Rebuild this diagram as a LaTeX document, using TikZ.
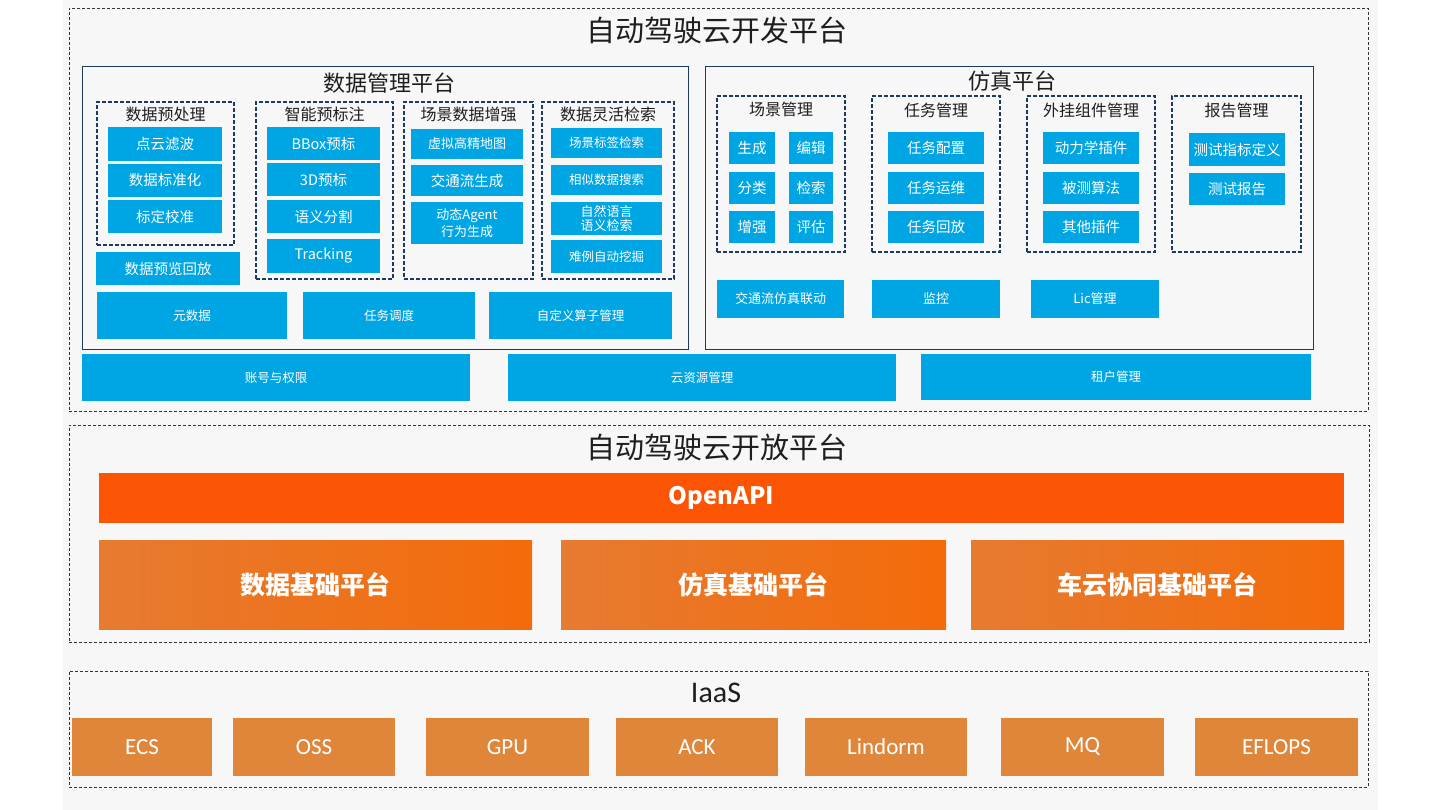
\documentclass[tikz,border=0pt]{standalone}
\usepackage{fontspec}
\setmainfont{Noto Sans CJK SC}
\newfontfamily\narrowfont{Carlito}
\usepackage{xcolor}
\usepackage{tikz}
\usetikzlibrary{fit, positioning}
\definecolor{pagegray}{HTML}{F7F7F7}
\definecolor{navy}{HTML}{1F3A5F}
\definecolor{cellblue}{HTML}{00A6E3}
\definecolor{apired}{HTML}{FA5404}
\definecolor{baseleft}{HTML}{E67B31}
\definecolor{baseright}{HTML}{F46B0A}
\definecolor{iaasorange}{HTML}{E0863B}
\definecolor{headtext}{HTML}{1E1E1E}
\newcommand*{\fsize}[1]{\fontsize{#1}{#1}\selectfont}
% box from its corners: [style]{x1}{y1}{x2}{y2}{name}{text}
\newcommand*{\cell}[7][bluecell]{%
  \node [ #1, minimum width = {(#4-#2)*1pt},
          minimum height = {(#5-#3)*1pt} ]
    (#6) at ({(#2+#4)/2}, {(#3+#5)/2}) {#7};
}

\begin{document}
\begin{tikzpicture}[x=1pt, y=-1pt,
  every node/.style = {inner sep=0pt, outer sep=0pt},
  layer/.style      = {draw=black!80, dash pattern=on 3pt off 2pt,
                       line width=0.8pt},
  platform/.style   = {draw=navy, line width=1pt},
  group/.style      = {draw=navy, dash pattern=on 4pt off 2pt,
                       line width=1.6pt},
  heading/.style    = {text=headtext, font=\fsize{29}},
  subheading/.style = {text=headtext, font=\fsize{22}},
  grouptitle/.style = {text=headtext, font=\fsize{16}},
  bluecell/.style   = {fill=cellblue, text=white, align=center,
                       font=\fsize{14.5}},
  smallcell/.style  = {bluecell, font=\fsize{13}},
  tinycell/.style   = {bluecell, font=\fsize{12.5}},
  apibar/.style     = {fill=apired, text=white, font=\bfseries\fsize{24}},
  basecell/.style   = {left color=baseleft, right color=baseright,
                       text=white, font=\bfseries\fsize{25}},
  iaascell/.style   = {fill=iaasorange, text=white,
                       font=\narrowfont\fsize{23}},
  ]
  % page
  \fill[white] (0,0) rectangle (1440,810);
  \fill[pagegray] (63,0) rectangle (1378,810);
  \useasboundingbox (0,0) rectangle (1440,810);

  % development platform
  \node[layer, fit = {(69,8) (1368,411)}] (devlayer) {};
  \node[heading] (devtitle) at (717,30) {自动驾驶云开发平台};

  \node[platform, fit = {(82,67) (688,349)}] (dataplat) {};
  \node[subheading] (datatitle) at (389,83) {数据管理平台};

  \node[group, fit = {(97,102) (234,245)}] (prep) {};
  \node[grouptitle, below = 5pt of prep.north] (preptitle) {数据预处理};
  \cell{108}{127}{222}{161}{filter}{点云滤波}
  \cell{108}{164}{222}{197}{normalize}{数据标准化}
  \cell{108}{200}{222}{233}{calib}{标定校准}
  \cell{96}{252}{240}{285}{preview}{数据预览回放}

  \node[group, fit = {(256,102) (393,279)}] (label) {};
  \node[grouptitle, below = 5pt of label.north] (labeltitle) {智能预标注};
  \cell{267}{127}{380}{160}{bbox}{BBox预标}
  \cell{267}{163}{380}{196}{label3d}{3D预标}
  \cell{267}{200}{380}{233}{segment}{语义分割}
  \cell{267}{239}{380}{273}{tracking}{Tracking}

  \node[group, fit = {(404,102) (533,279)}] (augment) {};
  \node[grouptitle, below = 5pt of augment.north] (augmenttitle) {场景数据增强};
  \cell[smallcell]{411}{129}{523}{159}{hdmap}{虚拟高精地图}
  \cell{411}{165}{523}{196}{trafficgen}{交通流生成}
  \cell[smallcell]{411}{202}{523}{244}{agent}{动态Agent\\[1pt]行为生成}

  \node[group, fit = {(542,102) (674,279)}] (search) {};
  \node[grouptitle, below = 5pt of search.north] (searchtitle) {数据灵活检索};
  \cell[tinycell]{551}{128}{662}{158}{tagsearch}{场景标签检索}
  \cell[tinycell]{551}{165}{662}{195}{simsearch}{相似数据搜索}
  \cell[smallcell]{551}{202}{662}{235}{nlsearch}{自然语言\\[1pt]语义检索}
  \cell[tinycell]{551}{240}{662}{273}{hardcase}{难例自动挖掘}

  \cell[tinycell]{97}{292}{287}{339}{meta}{元数据}
  \cell[tinycell]{303}{292}{475}{339}{schedule}{任务调度}
  \cell[tinycell]{489}{292}{672}{339}{operator}{自定义算子管理}

  \node[platform, fit = {(705,67) (1313,349)}] (simplat) {};
  \node[subheading] (simtitle) at (1012,81) {仿真平台};

  \node[group, fit = {(717,96) (845,252)}] (scene) {};
  \node[grouptitle, below = 6pt of scene.north] (scenetitle) {场景管理};
  \cell{729}{132}{775}{164}{generate}{生成}
  \cell{789}{132}{833}{164}{edit}{编辑}
  \cell{729}{172}{775}{204}{classify}{分类}
  \cell{789}{172}{833}{204}{retrieve}{检索}
  \cell{729}{211}{775}{243}{enhance}{增强}
  \cell{789}{211}{833}{243}{evaluate}{评估}

  \node[group, fit = {(872,96) (1000,252)}] (task) {};
  \node[grouptitle, below = 7pt of task.north] (tasktitle) {任务管理};
  \cell{888}{132}{984}{164}{taskconf}{任务配置}
  \cell{888}{172}{984}{204}{taskops}{任务运维}
  \cell{888}{211}{984}{243}{taskreplay}{任务回放}

  \node[group, fit = {(1027,96) (1155,252)}] (plugin) {};
  \node[grouptitle, below = 7pt of plugin.north] (plugintitle) {外挂组件管理};
  \cell{1043}{132}{1139}{164}{dynamics}{动力学插件}
  \cell{1043}{172}{1139}{204}{algo}{被测算法}
  \cell{1043}{211}{1139}{243}{otherplug}{其他插件}

  \node[group, fit = {(1172,96) (1301,252)}] (report) {};
  \node[grouptitle, below = 7pt of report.north] (reporttitle) {报告管理};
  \cell{1189}{133}{1285}{166}{metric}{测试指标定义}
  \cell{1189}{173}{1285}{205}{testreport}{测试报告}

  \cell[smallcell]{717}{280}{844}{318}{cosim}{交通流仿真联动}
  \cell[smallcell]{872}{280}{1000}{318}{monitor}{监控}
  \cell[smallcell]{1031}{280}{1159}{318}{licence}{Lic管理}

  \cell[tinycell]{82}{354}{470}{401}{account}{账号与权限}
  \cell[tinycell]{508}{354}{896}{401}{cloudres}{云资源管理}
  \cell[tinycell]{921}{354}{1311}{400}{tenant}{租户管理}

  % open platform
  \node[layer, fit = {(69,425) (1369,642)}] (openlayer) {};
  \node[heading] (opentitle) at (717,447) {自动驾驶云开放平台};
  \cell[apibar]{99}{473}{1344}{523}{openapi}{OpenAPI}
  \cell[basecell]{99}{540}{532}{629}{database}{数据基础平台}
  \cell[basecell]{561}{540}{946}{629}{simbase}{仿真基础平台}
  \cell[basecell]{971}{540}{1344}{629}{v2cbase}{车云协同基础平台}

  % iaas
  \node[layer, fit = {(69,671) (1368,787)}] (iaaslayer) {};
  \node[text=headtext, font=\narrowfont\fsize{30}] (iaastitle) at (716,693) {IaaS};
  \cell[iaascell]{72}{718}{212}{776}{ecs}{ECS}
  \cell[iaascell]{233}{718}{395}{776}{oss}{OSS}
  \cell[iaascell]{426}{718}{589}{776}{gpu}{GPU}
  \cell[iaascell]{616}{718}{778}{776}{ack}{ACK}
  \cell[iaascell]{805}{718}{967}{776}{lindorm}{Lindorm}
  \cell[iaascell]{1001}{718}{1164}{776}{mq}{MQ}
  \cell[iaascell]{1195}{718}{1358}{776}{eflops}{EFLOPS}
\end{tikzpicture}
\end{document}
